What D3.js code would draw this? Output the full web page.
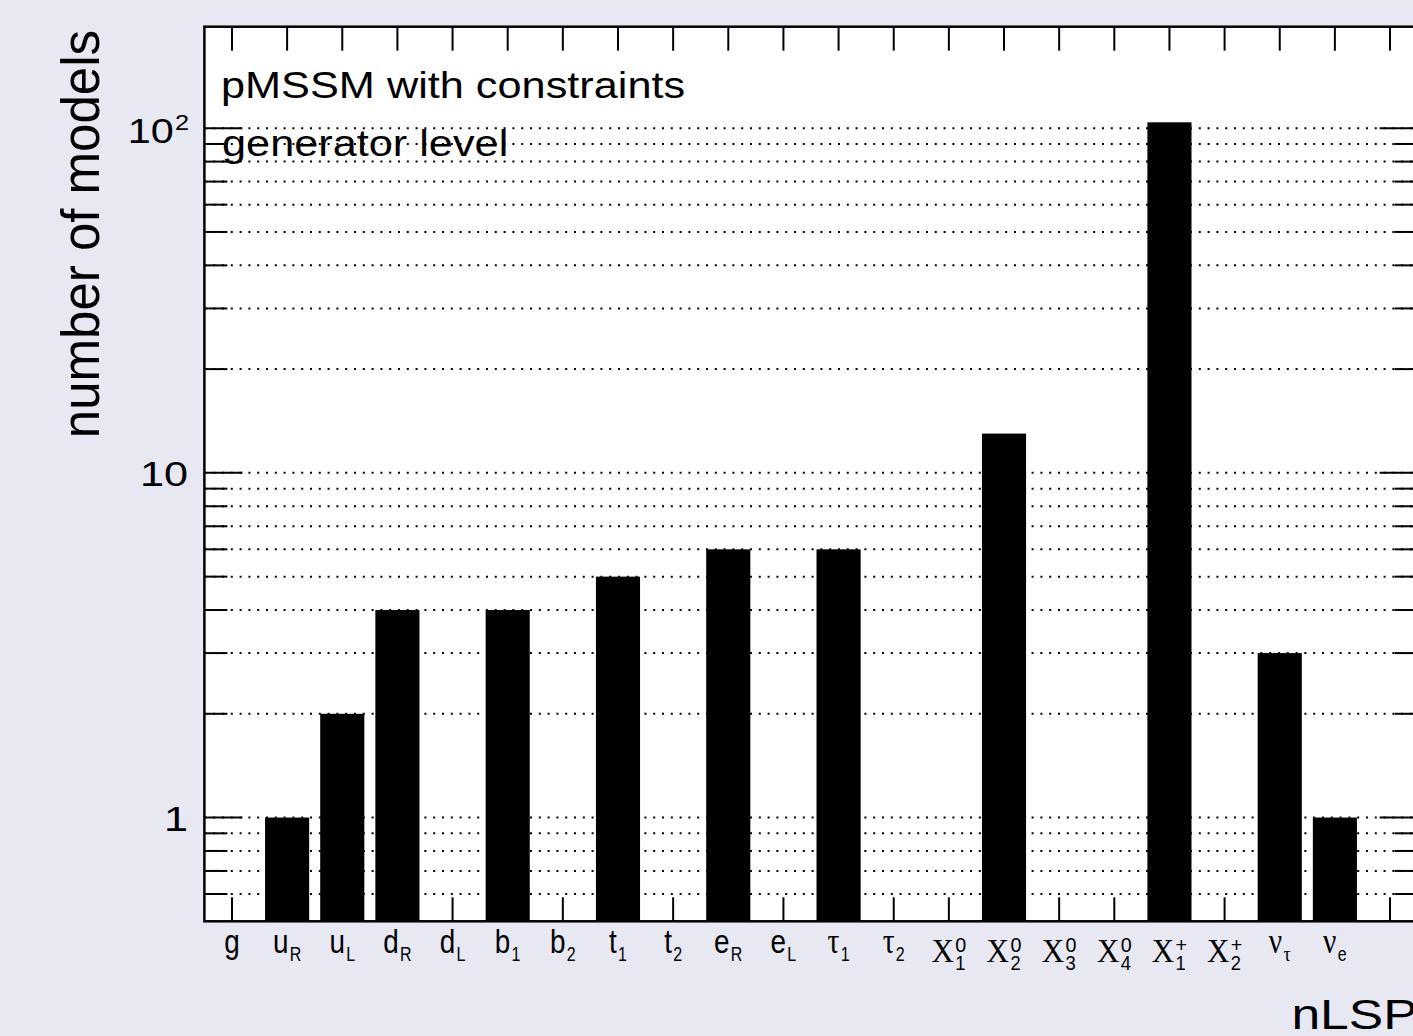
<!DOCTYPE html>
<html>
<head>
<meta charset="utf-8">
<script src="https://cdn.jsdelivr.net/npm/d3@7"></script>
<style>
  html, body { margin: 0; padding: 0; background: #e8e8f3; overflow: hidden; }
  svg { display: block; }
</style>
</head>
<body>
<svg id="chart" width="1413" height="1036"></svg>
<script>
// Bin labels: base glyph, subscript and superscript for each nLSP bin
const labelBase = ["g", "u", "u", "d", "d", "b", "b", "t", "t", "e", "e", "τ", "τ",
                   "Χ", "Χ", "Χ", "Χ", "Χ", "Χ", "ν", "ν", ""];
const labelSub  = ["", "R", "L", "R", "L", "1", "2", "1", "2", "R", "L", "1", "2",
                   "1", "2", "3", "4", "1", "2", "τ", "e", ""];
const labelSup  = ["", "", "", "", "", "", "", "", "", "", "", "", "",
                   "0", "0", "0", "0", "+", "+", "", "", ""];
// Number of models per nLSP bin
const counts    = [0, 1, 2, 4, 0, 4, 0, 5, 0, 6, 0, 6, 0,
                   0, 13, 0, 0, 104, 0, 3, 1, 0];
// Log axis range and labelled decades
const yRange      = [0.5, 197];
const yMajorTicks = [1, 10, 100];
const yMajorBase  = ["1", "10", "10"];
const yMajorExp   = ["", "", "2"];

const W = 1413, H = 1036;
const SANS = "'Liberation Sans', Arial, Helvetica, sans-serif";
const SERIF = "'Liberation Serif', 'Times New Roman', serif";
const frame = { left: 204.4, right: 1417.6, top: 26.7, bottom: 921.3 };

const svg = d3.select("#chart");
svg.append("rect").attr("width", W).attr("height", H).attr("fill", "#e8e8f3");

const x = d3.scaleBand()
  .domain(d3.range(counts.length))
  .range([frame.left, frame.right])
  .padding(0);
const bw = x.bandwidth();
const y = d3.scaleLog().domain(yRange).range([frame.bottom, frame.top]);

// plot area
svg.append("rect")
  .attr("x", frame.left).attr("y", frame.top)
  .attr("width", frame.right - frame.left).attr("height", frame.bottom - frame.top)
  .attr("fill", "#ffffff");

// tick values for the log axis (decades + intermediate steps)
const allTicks = y.ticks().filter(v => v > yRange[0] && v < yRange[1]);
const isMajor = v => yMajorTicks.includes(v);

// dotted horizontal grid
svg.append("g").selectAll("line").data(allTicks).join("line")
  .attr("x1", frame.left).attr("x2", frame.right)
  .attr("y1", d => y(d)).attr("y2", d => y(d))
  .attr("stroke", "#000").attr("stroke-width", 2)
  .attr("stroke-dasharray", "2,6.8");

// bars
svg.append("g").selectAll("rect").data(counts.map((c, i) => ({ c, i })).filter(d => d.c > 0)).join("rect")
  .attr("x", d => x(d.i) + 0.1 * bw)
  .attr("width", 0.8 * bw)
  .attr("y", d => y(d.c))
  .attr("height", d => frame.bottom - y(d.c))
  .attr("fill", "#000");

// y ticks on both sides
const ticks = svg.append("g").attr("stroke", "#000").attr("stroke-width", 2);
allTicks.forEach(v => {
  const len = isMajor(v) ? 38 : 23;
  ticks.append("line").attr("x1", frame.left).attr("x2", frame.left + len)
    .attr("y1", y(v)).attr("y2", y(v));
  ticks.append("line").attr("x1", frame.right).attr("x2", frame.right - len)
    .attr("y1", y(v)).attr("y2", y(v));
});
// x ticks at bin centres, top and bottom
d3.range(counts.length).forEach(i => {
  const cx = x(i) + bw / 2;
  ticks.append("line").attr("x1", cx).attr("x2", cx).attr("y1", frame.top).attr("y2", frame.top + 24);
  ticks.append("line").attr("x1", cx).attr("x2", cx).attr("y1", frame.bottom).attr("y2", frame.bottom - 24);
});

// frame
svg.append("rect")
  .attr("x", frame.left).attr("y", frame.top)
  .attr("width", frame.right - frame.left).attr("height", frame.bottom - frame.top)
  .attr("fill", "none").attr("stroke", "#000").attr("stroke-width", 2.5);

// helper for horizontally widened text
function wideText(parent, px, py, str, size, sx, anchor) {
  return parent.append("text")
    .attr("transform", `translate(${px},${py}) scale(${sx},1)`)
    .attr("font-family", SANS).attr("font-size", size)
    .attr("text-anchor", anchor).attr("fill", "#000")
    .text(str);
}

// y tick labels
yMajorTicks.forEach((v, k) => {
  if (yMajorExp[k]) {
    const t = svg.append("text")
      .attr("transform", `translate(189,${y(v) + 15}) scale(1.15,1)`)
      .attr("font-family", SANS).attr("text-anchor", "end").attr("fill", "#000");
    t.append("tspan").attr("font-size", 36).text(yMajorBase[k]);
    t.append("tspan").attr("font-size", 22).attr("dx", 1).attr("dy", -13).text(yMajorExp[k]);
  } else {
    wideText(svg, 188, y(v) + 13, yMajorBase[k], 36, 1.2, "end");
  }
});

// in-frame annotation
wideText(svg, 221, 98, "pMSSM with constraints", 37, 1.17, "start");
wideText(svg, 222, 156, "generator level", 37, 1.17, "start");

// axis titles
svg.append("text")
  .attr("transform", `translate(99,30) scale(1.05,1) rotate(-90)`)
  .attr("font-family", SANS).attr("font-size", 51)
  .attr("text-anchor", "end").attr("fill", "#000")
  .text("number of models");
wideText(svg, frame.right, 1029, "nLSP", 43, 1.2, "end");

// bin labels with sub/superscripts
const xlab = svg.append("g");
labelBase.forEach((b, i) => {
  if (!b) return;
  const chi = b === "Χ";
  const greek = b === "τ" || b === "ν";
  const sx = chi ? 0.94 : 0.82;
  const baseline = chi ? 961.7 : 953.3;
  const g = xlab.append("g");
  const inner = g.append("g").attr("transform", `scale(${sx},1)`);
  const main = inner.append("text")
    .attr("font-family", (chi || greek) ? SERIF : SANS)
    .attr("font-size", chi ? 33 : (greek ? 36 : 34))
    .attr("fill", "#000").text(b);
  const w = main.node().getComputedTextLength();
  if (labelSub[i]) {
    inner.append("text")
      .attr("x", w + 1.5).attr("y", chi ? 8.3 : 8)
      .attr("font-family", labelSub[i] === "τ" ? SERIF : SANS)
      .attr("font-size", labelSub[i] === "τ" ? 22 : 19.5)
      .attr("fill", "#000").text(labelSub[i]);
  }
  if (labelSup[i]) {
    inner.append("text")
      .attr("x", w + 1.5).attr("y", -10)
      .attr("font-family", SANS).attr("font-size", 21)
      .attr("fill", "#000").text(labelSup[i]);
  }
  const bb = inner.node().getBBox();
  const mid = (bb.x + bb.width / 2) * sx;
  g.attr("transform", `translate(${x(i) + bw / 2 - mid},${baseline})`);
});
</script>
</body>
</html>
